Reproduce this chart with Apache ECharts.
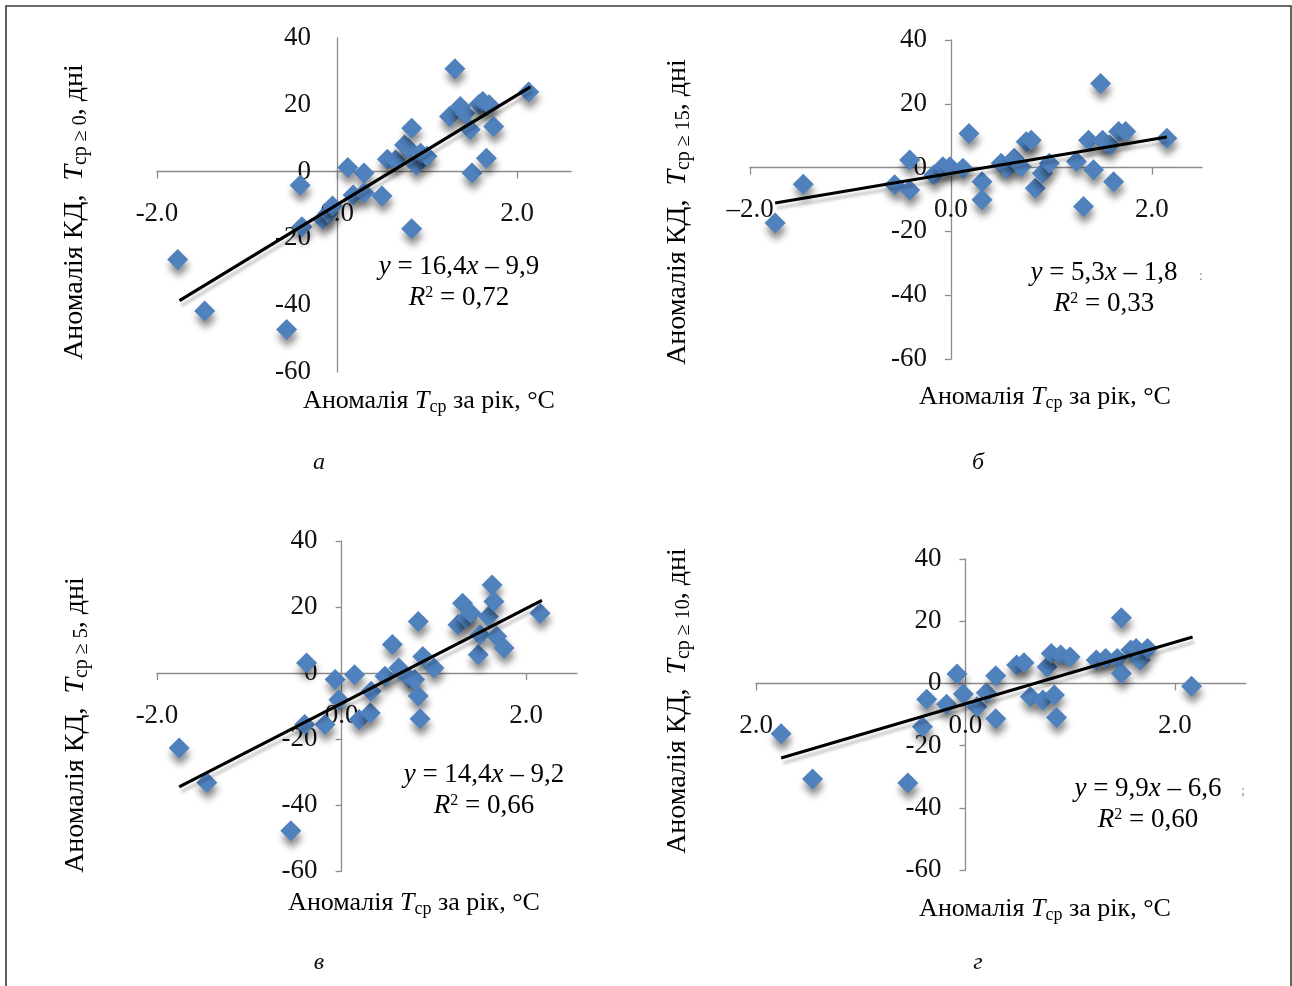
<!DOCTYPE html>
<html>
<head>
<meta charset="utf-8">
<script src="https://cdn.jsdelivr.net/npm/echarts@6/dist/echarts.min.js"></script>
<style>
html,body{margin:0;padding:0;background:#fff;}
#c{width:1292px;height:986px;}
</style>
</head>
<body>
<div id="c"></div>
<script>
// ---- data ----
const pointsA = [[-1.77,-26.3],[-1.47,-41.7],[-0.56,-47.3],[-0.41,-4.1],[-0.39,-16.5],[-0.16,-14.3],[-0.1,-12.5],[-0.05,-10.3],[0.12,1.2],[0.18,-7.0],[0.3,-0.4],[0.3,-6.3],[0.5,-7.3],[0.56,3.7],[0.65,3.5],[0.75,8.0],[0.79,7.0],[0.83,13.0],[0.83,-17.1],[0.88,2.0],[0.93,5.5],[1.0,4.6],[1.25,16.5],[1.31,30.8],[1.37,19.5],[1.42,17.5],[1.48,12.6],[1.5,-0.4],[1.58,20.2],[1.62,21.0],[1.66,4.0],[1.69,20.0],[1.74,13.5],[2.13,23.8]];
const pointsB = [[-1.75,-17.4],[-1.47,-5.2],[-0.56,-5.4],[-0.41,2.4],[-0.41,-7.0],[-0.17,-2.3],[-0.08,0.3],[-0.01,0.3],[0.12,-0.2],[0.18,10.7],[0.31,-4.4],[0.31,-10.1],[0.5,1.4],[0.56,-0.2],[0.63,2.9],[0.7,0.3],[0.75,8.1],[0.8,8.6],[0.84,-6.5],[0.91,-1.8],[0.98,1.4],[1.25,1.9],[1.32,-12.2],[1.37,8.6],[1.42,-0.7],[1.49,26.4],[1.51,8.6],[1.58,7.1],[1.62,-4.4],[1.67,11.3],[1.74,11.3],[2.15,9.2]];
const pointsC = [[-1.76,-22.7],[-1.46,-33.2],[-0.55,-47.8],[-0.38,3.0],[-0.4,-15.6],[-0.18,-15.6],[-0.07,-2.0],[-0.03,-8.1],[0.14,-0.5],[0.19,-14.1],[0.31,-12.1],[0.32,-5.5],[0.47,-1.0],[0.55,8.6],[0.62,1.5],[0.73,-1.5],[0.79,-2.0],[0.83,15.6],[0.83,-7.0],[0.85,-13.9],[0.88,5.0],[1.0,1.5],[1.26,14.6],[1.31,21.1],[1.35,16.6],[1.4,18.1],[1.48,5.5],[1.5,11.6],[1.59,17.1],[1.63,26.7],[1.65,21.7],[1.68,11.1],[1.76,7.6],[2.15,18.1]];
const pointsD = [[-1.76,-16.2],[-1.46,-30.7],[-0.55,-32.0],[-0.37,-5.1],[-0.41,-13.9],[-0.18,-6.7],[-0.08,3.0],[-0.02,-3.4],[0.11,-7.5],[0.2,-3.0],[0.29,2.5],[0.29,-11.4],[0.49,5.9],[0.56,6.6],[0.62,-4.3],[0.74,-5.3],[0.78,5.3],[0.82,9.6],[0.85,-3.7],[0.87,-11.0],[0.91,9.1],[1.0,8.5],[1.25,7.5],[1.34,8.0],[1.45,8.0],[1.49,21.1],[1.49,3.2],[1.58,10.7],[1.63,11.2],[1.67,7.5],[1.74,11.2],[2.16,-0.9]];

// trend line endpoints
const trendA = [[-1.75,-38.6],[2.15,25.4]];
const trendB = [[-1.75,-11.1],[2.15,9.6]];
const trendC = [[-1.76,-34.5],[2.17,22.0]];
const trendD = [[-1.76,-24.0],[2.17,14.9]];

const yTicks = [-60,-40,-20,0,20,40];
const xTicks = [-2,0,2];
const xMin = -2;
const xMax = [2.6, 2.5, 2.55, 2.68];
const yMin = -60, yMax = 40;

const equations = ['16,4','5,3','14,4','9,9'];
const intercepts = ['9,9','1,8','9,2','6,6'];
const r2Values = ['0,72','0,33','0,66','0,60'];
const thresholds = ['0','15','5','10'];
const panelLetters = ['а','б','в','г'];

// ---- layout ----
const FONT = '"Liberation Serif","Times New Roman",serif';
const grids = [
  {left:157, top:38,  width:414, height:334},
  {left:750, top:40,  width:452, height:319},
  {left:157, top:541, width:420, height:330},
  {left:756, top:559, width:490, height:311}
];
const xLabelFmt = [
  v => v.toFixed(1),
  v => (v < 0 ? '–' + Math.abs(v).toFixed(1) : v.toFixed(1)),
  v => v.toFixed(1),
  v => (v < 0 ? Math.abs(v).toFixed(1) : v.toFixed(1))
];
const yLabelMargin = [26, 24, 24, 24];
const AX = '#8c8c8c';

const option = {
  animation:false,
  backgroundColor:'#fff',
  grid: grids.map(g => Object.assign({containLabel:false, outerBoundsMode:'none'}, g)),
  xAxis: grids.map((g,i) => {
    // move the axis from the grid bottom up to y = 0
    const off = -g.height * (0 - yMin) / (yMax - yMin);
    return {
      type:'value', gridIndex:i, min:xMin, max:xMax[i], position:'bottom', offset:off,
      axisLine:{show:true, onZero:false, lineStyle:{color:AX, width:1.3}},
      axisTick:{show:true, length:7, customValues:xTicks, lineStyle:{color:AX, width:1.3}},
      axisLabel:{show:true, customValues:xTicks, margin:29, fontFamily:FONT, fontSize:27, color:'#111', formatter:xLabelFmt[i]},
      splitLine:{show:false}
    };
  }),
  yAxis: grids.map((g,i) => {
    const off = -g.width * (0 - xMin) / (xMax[i] - xMin);
    return {
      type:'value', gridIndex:i, min:yMin, max:yMax, interval:20, position:'left', offset:off,
      axisLine:{show:true, onZero:false, lineStyle:{color:AX, width:1.3}},
      axisTick:{show:i!==0, length:6, lineStyle:{color:AX, width:1.3}},
      axisLabel:{show:true, margin:yLabelMargin[i], fontFamily:FONT, fontSize:27, color:'#111', formatter:v => String(v)},
      splitLine:{show:false}
    };
  }),
  series: []
};

const pts = [pointsA, pointsB, pointsC, pointsD];
const trends = [trendA, trendB, trendC, trendD];
pts.forEach((p,i) => {
  option.series.push({
    type:'scatter', xAxisIndex:i, yAxisIndex:i, data:p,
    symbol:'diamond', symbolSize:[21,21], z:2,
    itemStyle:{color:'#4f81bd', opacity:1, shadowBlur:7, shadowColor:'rgba(0,0,0,0.45)', shadowOffsetX:1, shadowOffsetY:7}
  });
  option.series.push({
    type:'line', xAxisIndex:i, yAxisIndex:i, data:trends[i],
    symbol:'none', z:3,
    lineStyle:{color:'#000', width:3.2, shadowBlur:3, shadowColor:'rgba(0,0,0,0.22)', shadowOffsetX:2, shadowOffsetY:5}
  });
});

const richX = {
  n:{fontFamily:FONT, fontSize:26, color:'#111'},
  i:{fontFamily:FONT, fontSize:26, fontStyle:'italic', color:'#111'},
  s:{fontFamily:FONT, fontSize:18, color:'#111', padding:[12,0,0,0]}
};
const richY = {
  n:{fontFamily:FONT, fontSize:28, color:'#111'},
  i:{fontFamily:FONT, fontSize:28, fontStyle:'italic', color:'#111'},
  s:{fontFamily:FONT, fontSize:20, color:'#111', padding:[12,0,0,0]}
};
const richE = {
  n:{fontFamily:FONT, fontSize:27, color:'#111'},
  i:{fontFamily:FONT, fontSize:27, fontStyle:'italic', color:'#111'},
  sup:{fontFamily:FONT, fontSize:16, color:'#111', padding:[0,0,11,0]}
};

const xTitlePos = [[429,401],[1045,397],[414,903],[1045,909]];
const yTitlePos = [[75,212],[678,212],[76,725],[678,701]];
const eqPos = [[459,267],[1104,273],[484,775],[1148,789]];
const letterPos = [[319,463],[978,463],[319,963],[978,963]];

const graphic = [];
graphic.push({type:'rect', shape:{x:6, y:6, width:1285, height:1000}, style:{fill:'none', stroke:'#3c3c3c', lineWidth:1.6}, silent:true});
for (let i=0;i<4;i++){
  graphic.push({type:'text', x:xTitlePos[i][0], y:xTitlePos[i][1], style:{
    text:'{n|Аномалія }{i|T}{s|ср}{n| за рік, °C}', rich:richX, align:'center', verticalAlign:'middle'}});
  graphic.push({type:'text', x:yTitlePos[i][0], y:yTitlePos[i][1], rotation:Math.PI/2, style:{
    text:'{n|Аномалія КД,  }{i|T}{s|ср ≥ ' + thresholds[i] + '}{n|, дні}', rich:richY, align:'center', verticalAlign:'middle'}});
  graphic.push({type:'text', x:eqPos[i][0], y:eqPos[i][1], style:{
    text:'{i|y}{n| = ' + equations[i] + '}{i|x}{n| – ' + intercepts[i] + '}', rich:richE, align:'center', verticalAlign:'middle'}});
  graphic.push({type:'text', x:eqPos[i][0], y:eqPos[i][1]+31, style:{
    text:'{i|R}{sup|2}{n| = ' + r2Values[i] + '}', rich:richE, align:'center', verticalAlign:'middle'}});
  graphic.push({type:'text', x:letterPos[i][0], y:letterPos[i][1], style:{
    text:panelLetters[i], font:'italic 24px ' + FONT, fill:'#111', align:'center', verticalAlign:'middle'}});
}
graphic.push({type:'text', x:1201, y:276, style:{text:':', font:'14px ' + FONT, fill:'#888', align:'center', verticalAlign:'middle'}});
graphic.push({type:'text', x:1243, y:791, style:{text:';', font:'14px ' + FONT, fill:'#888', align:'center', verticalAlign:'middle'}});
option.graphic = graphic;

const chart = echarts.init(document.getElementById('c'), null, {renderer:'canvas'});
chart.setOption(option);
</script>
</body>
</html>
